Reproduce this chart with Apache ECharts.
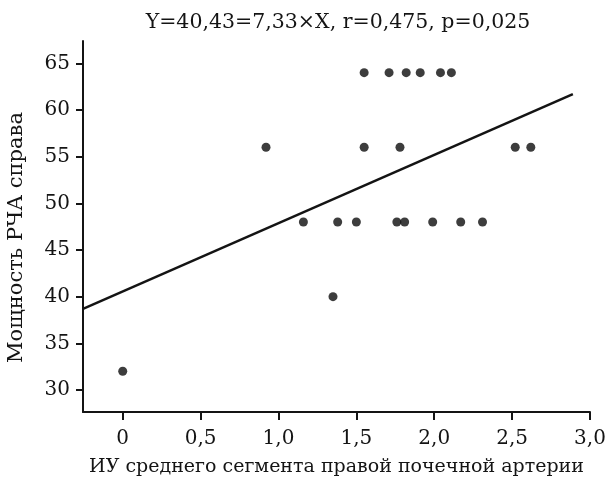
<!DOCTYPE html>
<html>
<head>
<meta charset="utf-8">
<script src="https://cdn.jsdelivr.net/npm/echarts@6/dist/echarts.min.js"></script>
<style>
  html, body { margin: 0; padding: 0; background: #fff; }
  #chart { width: 606px; height: 481px; }
</style>
</head>
<body>
<div id="chart"></div>
<script>
// scatter points: ИУ (x) vs мощность РЧА (y)
var pointsX = [0, 0.92, 1.16, 1.35, 1.38, 1.50, 1.55, 1.55, 1.71, 1.76, 1.78, 1.81, 1.82,
  1.91, 1.99, 2.04, 2.11, 2.17, 2.31, 2.52, 2.62];
var pointsY = [32, 56, 48, 40, 48, 48, 64, 56, 64, 48, 56, 48, 64,
  64, 48, 64, 64, 48, 48, 56, 56];

// regression line ends
var lineX = [-0.255, 2.89];
var lineY = [38.7, 61.7];

var xTicks = [0, 0.5, 1.0, 1.5, 2.0, 2.5, 3.0];
var yTicks = [30, 35, 40, 45, 50, 55, 60, 65];

var titleText = 'Y=40,43=7,33×X, r=0,475, p=0,025';
var xName = 'ИУ среднего сегмента правой почечной артерии';
var yName = 'Мощность РЧА справа';

var ink = '#141414';
var font = 'DejaVu Serif';

var chart = echarts.init(document.getElementById('chart'), null, { renderer: 'canvas' });
chart.setOption({
  animation: false,
  backgroundColor: '#fff',
  title: {
    text: titleText,
    left: 333,
    top: 7,
    textAlign: 'center',
    textStyle: { fontFamily: font, fontSize: 20.5, fontWeight: 'normal', color: ink }
  },
  grid: { left: 83, right: 16, top: 41, bottom: 69, outerBoundsMode: 'none' },
  xAxis: {
    type: 'value',
    min: -0.255,
    max: 3.0,
    name: xName,
    nameLocation: 'middle',
    nameGap: 46,
    nameTextStyle: { fontFamily: font, fontSize: 19, color: ink },
    axisLine: { onZero: false, lineStyle: { color: ink, width: 2 } },
    axisTick: { length: 8, lineStyle: { color: ink, width: 2 }, customValues: xTicks },
    axisLabel: {
      fontFamily: font, fontSize: 20, color: ink, margin: 17,
      customValues: xTicks,
      formatter: function (v) { return v === 0 ? '0' : v.toFixed(1).replace('.', ','); }
    },
    splitLine: { show: false }
  },
  yAxis: {
    type: 'value',
    min: 27.64,
    max: 67.39,
    name: yName,
    nameLocation: 'middle',
    nameGap: 56,
    nameTextStyle: { fontFamily: font, fontSize: 21, color: ink, padding: [0, 22, 0, 0] },
    axisLine: { show: true, onZero: false, lineStyle: { color: ink, width: 2 } },
    axisTick: { show: true, length: 7, lineStyle: { color: ink, width: 2 }, customValues: yTicks },
    axisLabel: { fontFamily: font, fontSize: 20, color: ink, margin: 13, customValues: yTicks },
    splitLine: { show: false }
  },
  series: [
    {
      type: 'line',
      data: lineX.map(function (x, i) { return [x, lineY[i]]; }),
      symbol: 'none',
      lineStyle: { color: ink, width: 2.5 },
      z: 2
    },
    {
      type: 'scatter',
      data: pointsX.map(function (x, i) { return [x, pointsY[i]]; }),
      symbol: 'circle',
      symbolSize: 9,
      itemStyle: { color: '#0d0d0d' },
      z: 3
    }
  ]
});
</script>
</body>
</html>
